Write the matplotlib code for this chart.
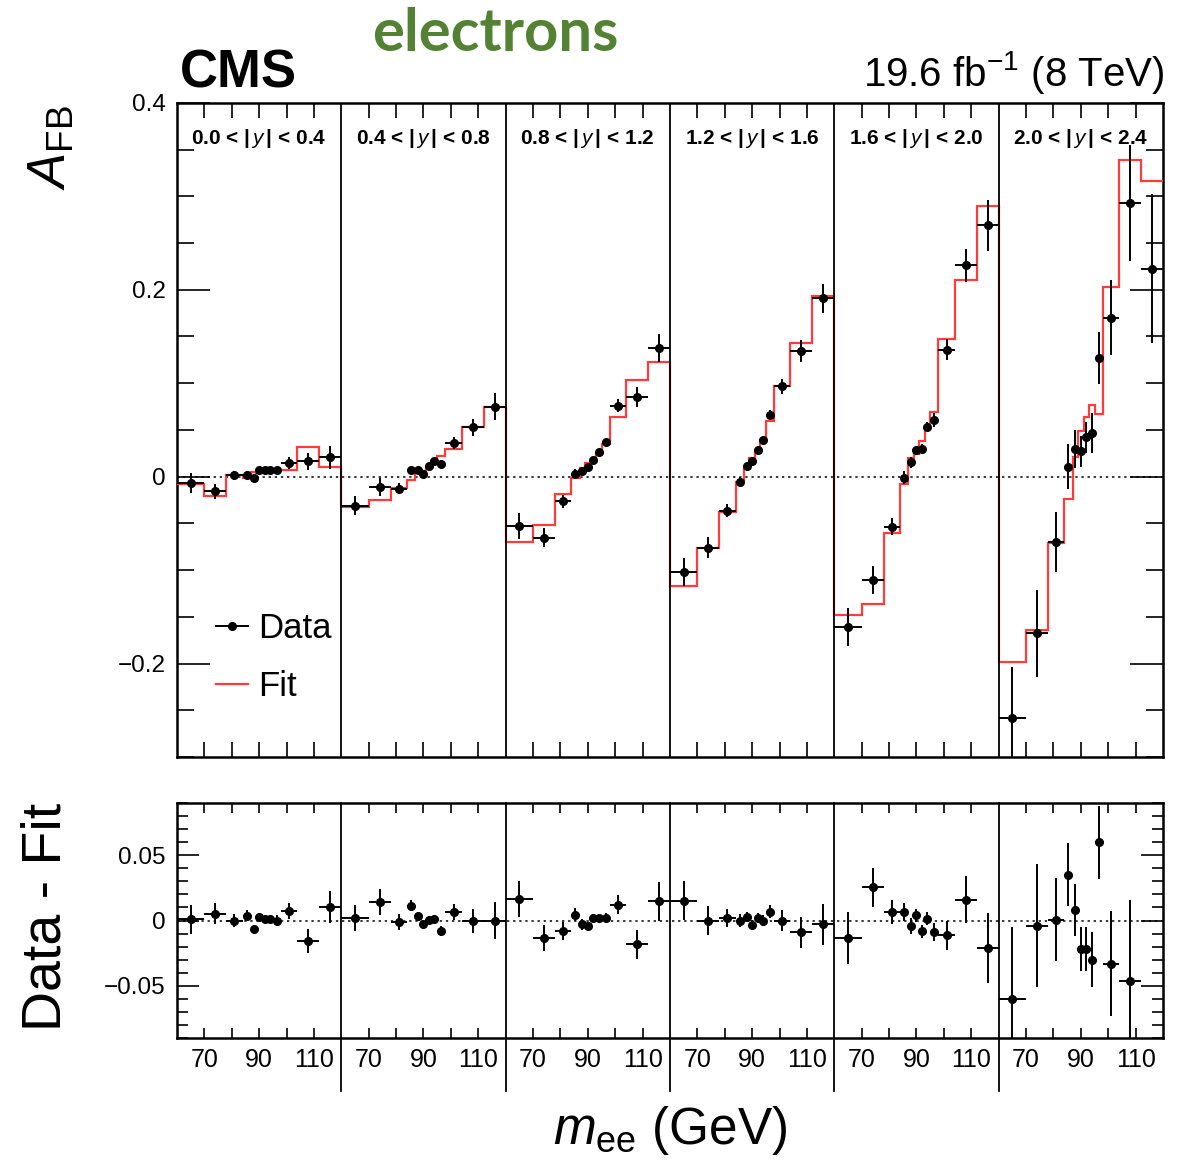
import numpy as np
import matplotlib.pyplot as plt
from matplotlib.lines import Line2D
from matplotlib.ticker import FixedLocator, MultipleLocator
import matplotlib.transforms as mtransforms

plt.rcParams['font.family'] = ['Liberation Sans', 'DejaVu Sans']
plt.rcParams['mathtext.fontset'] = 'custom'
plt.rcParams['mathtext.rm'] = 'Liberation Sans'
plt.rcParams['mathtext.it'] = 'Liberation Sans:italic'
plt.rcParams['mathtext.bf'] = 'Liberation Sans:bold'

# mass bins (GeV), same in every rapidity panel
mass_edges = [60, 70, 78, 84, 87, 89, 91, 93, 95, 98, 104, 112, 120]
rap_labels = [r"0.0 < |$\,y\,$| < 0.4", r"0.4 < |$\,y\,$| < 0.8", r"0.8 < |$\,y\,$| < 1.2",
              r"1.2 < |$\,y\,$| < 1.6", r"1.6 < |$\,y\,$| < 2.0", r"2.0 < |$\,y\,$| < 2.4"]
tick_masses = [70, 80, 90, 100, 110]
tick_names = ['70', '', '90', '', '110']

# A_FB measured, one row per rapidity panel
afb_data = [
    [-0.007, -0.0157, 0.0014, 0.002, -0.0014, 0.0068, 0.0068, 0.007, 0.0075, 0.0146, 0.0164, 0.0207],
    [-0.031, -0.011, -0.0128, 0.0075, 0.0075, 0.0032, 0.011, 0.0164, 0.014, 0.036, 0.053, 0.075],
    [-0.053, -0.0654, -0.0266, 0.003, 0.0063, 0.0105, 0.0177, 0.026, 0.0367, 0.076, 0.085, 0.138],
    [-0.1017, -0.076, -0.0363, -0.0055, 0.0114, 0.0169, 0.0283, 0.0388, 0.0663, 0.0966, 0.1346, 0.1907],
    [-0.1608, -0.111, -0.0536, -0.001, 0.0154, 0.028, 0.0298, 0.0536, 0.0606, 0.136, 0.226, 0.269],
    [-0.2586, -0.1678, -0.070, 0.0107, 0.0294, 0.027, 0.042, 0.0466, 0.1268, 0.170, 0.2926, 0.2227],
]
afb_err = [
    [0.011, 0.008, 0.005, 0.004, 0.003, 0.003, 0.003, 0.003, 0.004, 0.006, 0.009, 0.012],
    [0.010, 0.010, 0.006, 0.004, 0.003, 0.003, 0.003, 0.003, 0.004, 0.006, 0.009, 0.014],
    [0.014, 0.010, 0.007, 0.005, 0.004, 0.003, 0.003, 0.003, 0.004, 0.007, 0.011, 0.015],
    [0.015, 0.011, 0.007, 0.005, 0.004, 0.004, 0.004, 0.004, 0.005, 0.008, 0.012, 0.016],
    [0.020, 0.015, 0.009, 0.007, 0.006, 0.005, 0.005, 0.005, 0.007, 0.011, 0.018, 0.027],
    [0.055, 0.047, 0.032, 0.024, 0.020, 0.017, 0.017, 0.021, 0.028, 0.040, 0.062, 0.080],
]
afb_fit = [
    [-0.008, -0.021, 0.0014, -0.0018, 0.005, 0.004, 0.0053, 0.006, 0.0075, 0.0075, 0.032, 0.0103],
    [-0.033, -0.025, -0.012, -0.004, 0.0035, 0.006, 0.010, 0.015, 0.022, 0.030, 0.053, 0.075],
    [-0.0695, -0.052, -0.0185, -0.0016, 0.0093, 0.0148, 0.0157, 0.024, 0.0347, 0.064, 0.103, 0.123],
    [-0.117, -0.076, -0.0383, -0.0055, 0.0086, 0.0202, 0.0263, 0.0388, 0.0597, 0.0966, 0.1435, 0.1937],
    [-0.1476, -0.1364, -0.060, -0.0074, 0.0197, 0.0239, 0.0379, 0.0523, 0.0695, 0.147, 0.210, 0.290],
    [-0.1988, -0.164, -0.0708, -0.0244, 0.0215, 0.0486, 0.0636, 0.0766, 0.067, 0.203, 0.339, 0.316],
]
data_minus_fit = [
    [0.001, 0.0053, 0.0, 0.0038, -0.0064, 0.0028, 0.0015, 0.001, 0.0, 0.0071, -0.0158, 0.0104],
    [0.002, 0.0143, -0.001, 0.0115, 0.0038, -0.003, 0.0008, 0.0013, -0.0081, 0.0064, -0.0005, 0.0],
    [0.0165, -0.0132, -0.0081, 0.0046, -0.003, -0.0043, 0.002, 0.002, 0.002, 0.0122, -0.0183, 0.0147],
    [0.0153, 0.0, 0.002, 0.0, 0.0028, -0.0033, 0.002, 0.0, 0.0066, 0.0, -0.0089, -0.003],
    [-0.0132, 0.0254, 0.0064, 0.0064, -0.0043, 0.0041, -0.0081, 0.0013, -0.0089, -0.0112, 0.016, -0.0209],
    [-0.0598, -0.0038, 0.0008, 0.0351, 0.0079, -0.0216, -0.0216, -0.030, 0.0598, -0.033, -0.0466, -0.0933],
]

FIT_RED = '#ff3c3c'
panel_w = mass_edges[-1] - mass_edges[0]
n_panels = len(rap_labels)

edges = np.array(mass_edges, float)
centers = 0.5 * (edges[1:] + edges[:-1])
half_w = 0.5 * np.diff(edges)

fig = plt.figure(figsize=(11.95, 11.64), dpi=100)
ax_top = fig.add_axes([0.1481, 0.3497, 0.8251, 0.5619])
ax_bot = fig.add_axes([0.1481, 0.1082, 0.8251, 0.2019])

# fit drawn as one continuous histogram over all panels
all_edges = np.concatenate([edges[:-1] - mass_edges[0] + i * panel_w for i in range(n_panels)]
                           + [[n_panels * panel_w]])
ax_top.stairs(np.concatenate(afb_fit), all_edges, baseline=None,
              color=FIT_RED, lw=1.6, zorder=3)

ylo_bot, yhi_bot = -0.09, 0.09
for i in range(n_panels):
    x = centers - mass_edges[0] + i * panel_w
    ax_top.errorbar(x, afb_data[i], xerr=half_w, yerr=afb_err[i], fmt='o', ms=5.5,
                    color='k', elinewidth=1.4, capsize=0, zorder=4)
    res = np.array(data_minus_fit[i])
    keep = (res > ylo_bot) & (res < yhi_bot)   # ROOT skips points off the pad
    ax_bot.errorbar(x[keep], res[keep], xerr=half_w[keep], yerr=np.array(afb_err[i])[keep],
                    fmt='o', ms=5.5, color='k', elinewidth=1.4, capsize=0, zorder=4)
    ax_top.text(i * panel_w + panel_w / 2, 0.3615, rap_labels[i], ha='center', va='center',
                fontsize=15, fontweight='bold')

# panel separators
trans = mtransforms.blended_transform_factory(ax_bot.transData, ax_bot.transAxes)
for i in range(1, n_panels):
    ax_top.axvline(i * panel_w, color='k', lw=1.3, zorder=5)
    ax_bot.plot([i * panel_w] * 2, [1, -0.225], color='k', lw=1.3, transform=trans,
                clip_on=False, zorder=5)

xt = [m - mass_edges[0] + i * panel_w for i in range(n_panels) for m in tick_masses]
xl = tick_names * n_panels
for ax in (ax_top, ax_bot):
    ax.axhline(0, color='k', lw=1.1, ls=(0, (1.5, 2.5)), zorder=2)
    ax.set_xlim(0, n_panels * panel_w)
    ax.xaxis.set_major_locator(FixedLocator(xt))
    for sp in ax.spines.values():
        sp.set_linewidth(1.8)

ax_top.set_xticklabels([])
ax_top.set_ylim(-0.3, 0.4)
ax_top.set_yticks([-0.2, 0, 0.2, 0.4])
ax_top.set_yticklabels(['\u22120.2', '0', '0.2', '0.4'])
ax_top.yaxis.set_minor_locator(MultipleLocator(0.05))
ax_top.tick_params(axis='x', which='major', direction='in', top=True, length=11, width=1.2)
ax_top.tick_params(axis='y', which='major', direction='in', right=True, length=24, width=1.2,
                   labelsize=17.5, pad=8)
ax_top.tick_params(axis='y', which='minor', direction='in', right=True, length=12, width=1.2)

ax_bot.set_xticklabels(xl)
ax_bot.set_ylim(ylo_bot, yhi_bot)
ax_bot.set_yticks([-0.05, 0, 0.05])
ax_bot.set_yticklabels(['\u22120.05', '0', '0.05'])
ax_bot.yaxis.set_minor_locator(MultipleLocator(0.01))
ax_bot.tick_params(axis='x', which='major', direction='in', top=True, length=7, width=1.2,
                   labelsize=18, pad=7)
ax_bot.tick_params(axis='y', which='major', direction='in', right=True, length=16, width=1.2,
                   labelsize=17.5, pad=8)
ax_bot.tick_params(axis='y', which='minor', direction='in', right=True, length=8, width=1.2)

handles = [Line2D([], [], color='k', marker='o', ms=5.5, lw=1.4),
           Line2D([], [], color=FIT_RED, lw=1.6)]
ax_top.legend(handles, ['Data', 'Fit'], loc='upper left', bbox_to_anchor=(0.04, 0.222),
              frameon=False, fontsize=25, handlelength=0.9, handletextpad=0.3,
              labelspacing=0.72, borderpad=0, borderaxespad=0)

fig.text(0.0435, 0.91, r'$A_{\mathrm{FB}}$', rotation=90, ha='center', va='top', fontsize=38)
fig.text(0.039, 0.2122, 'Data - Fit', rotation=90, ha='center', va='center', fontsize=40)
fig.text(0.5607, 0.029, r'$m_{\mathrm{ee}}$ (GeV)', ha='center', va='center', fontsize=37)
fig.text(0.1506, 0.9244, 'CMS', fontsize=38, fontweight='bold', va='baseline')
fig.text(0.9749, 0.9262, r'19.6 fb$^{-1}$ (8 TeV)', fontsize=29, ha='right', va='baseline')
fig.text(0.3113, 0.956, 'electrons', fontsize=43, fontweight='bold', color='#548235',
         family=['Lato', 'DejaVu Sans'], va='baseline')

fig.savefig('out.png', dpi=100)
